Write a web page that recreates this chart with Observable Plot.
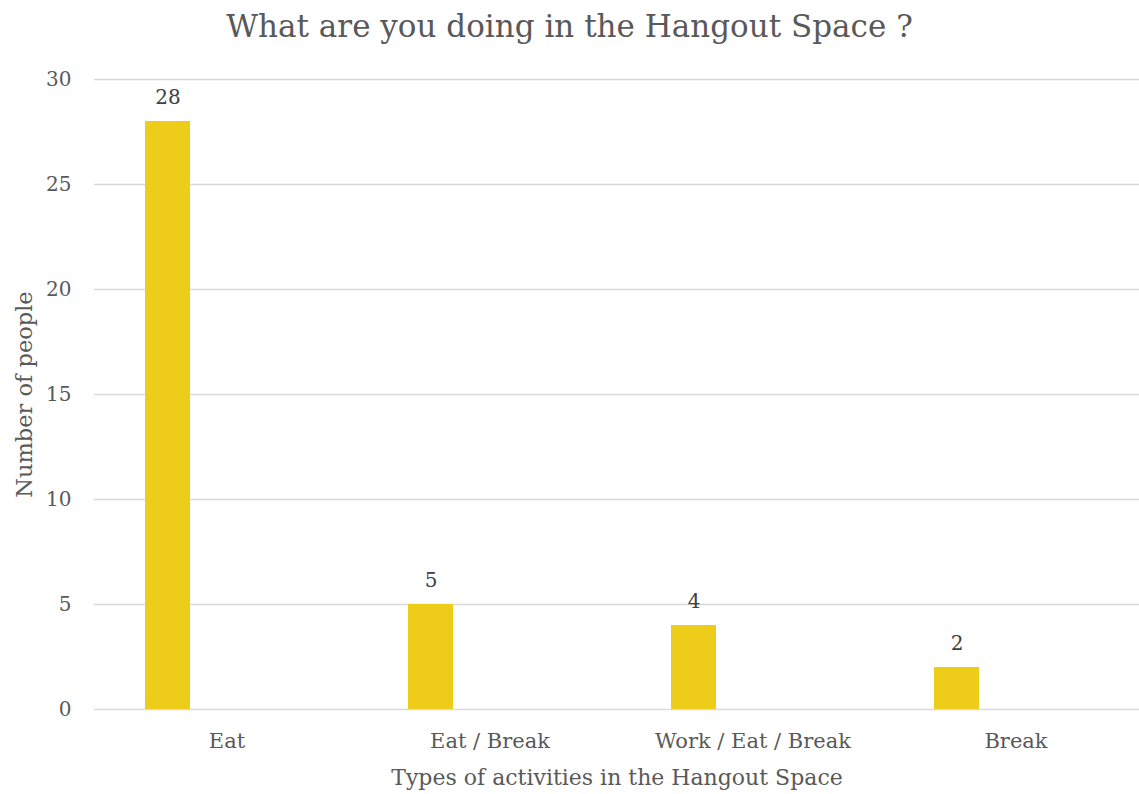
<!DOCTYPE html>
<html>
<head>
<meta charset="utf-8">
<script src="https://cdn.jsdelivr.net/npm/d3@7"></script>
<script src="https://cdn.jsdelivr.net/npm/@observablehq/plot@0.6"></script>
<style>
  body { margin: 0; background: white; }
  #wrap { position: relative; width: 1139px; height: 794px; }
  #title { position: absolute; top: 8px; left: 0; width: 1139px; text-align: center;
           font-family: "DejaVu Serif", serif; font-size: 31px; color: #595959; }
  #chart { position: absolute; top: 0; left: 0; }
</style>
</head>
<body>
<div id="wrap">
  <div id="chart"></div>
  <div id="title">What are you doing in the Hangout Space ?</div>
</div>
<script>
const categories = ["Eat", "Eat / Break", "Work / Eat / Break", "Break"];
const counts = [28, 5, 4, 2];
const yTicks = [0, 5, 10, 15, 20, 25, 30];
const xTitle = "Types of activities in the Hangout Space";
const yTitle = "Number of people";

const data = categories.map((c, i) => ({category: c, count: counts[i]}));

const chart = Plot.plot({
  width: 1139,
  height: 794,
  marginLeft: 94,
  marginRight: 0,
  marginTop: 79,
  marginBottom: 85,
  style: {fontFamily: "DejaVu Serif", color: "#595959", background: "white", overflow: "visible"},
  x: {domain: categories, range: [94, 1148], padding: 0, label: null},
  y: {domain: [0, 30], label: null},
  marks: [
    Plot.gridY(yTicks, {stroke: "#d9d9d9", strokeOpacity: 1, strokeWidth: 1.6}),
    Plot.barY(data, {x: "category", y: "count", fill: "#EDCC1A", insetLeft: 50, insetRight: 168}),
    Plot.text(data, {x: "category", y: "count", text: d => String(d.count), dx: -59, dy: -24,
                     fontSize: 20, fill: "#404040"}),
    Plot.axisX({tickSize: 0, tickPadding: 24, fontSize: 21, label: null}),
    Plot.axisY(yTicks, {tickSize: 0, tickPadding: 23, fontSize: 20, label: null}),
    Plot.text([xTitle], {frameAnchor: "bottom", dy: 75, fontSize: 22, fill: "#595959"}),
    Plot.text([yTitle], {frameAnchor: "left", dx: -70, rotate: -90, textAnchor: "middle",
                         fontSize: 22.5, fill: "#595959"})
  ]
});
document.getElementById("chart").appendChild(chart);
</script>
</body>
</html>
